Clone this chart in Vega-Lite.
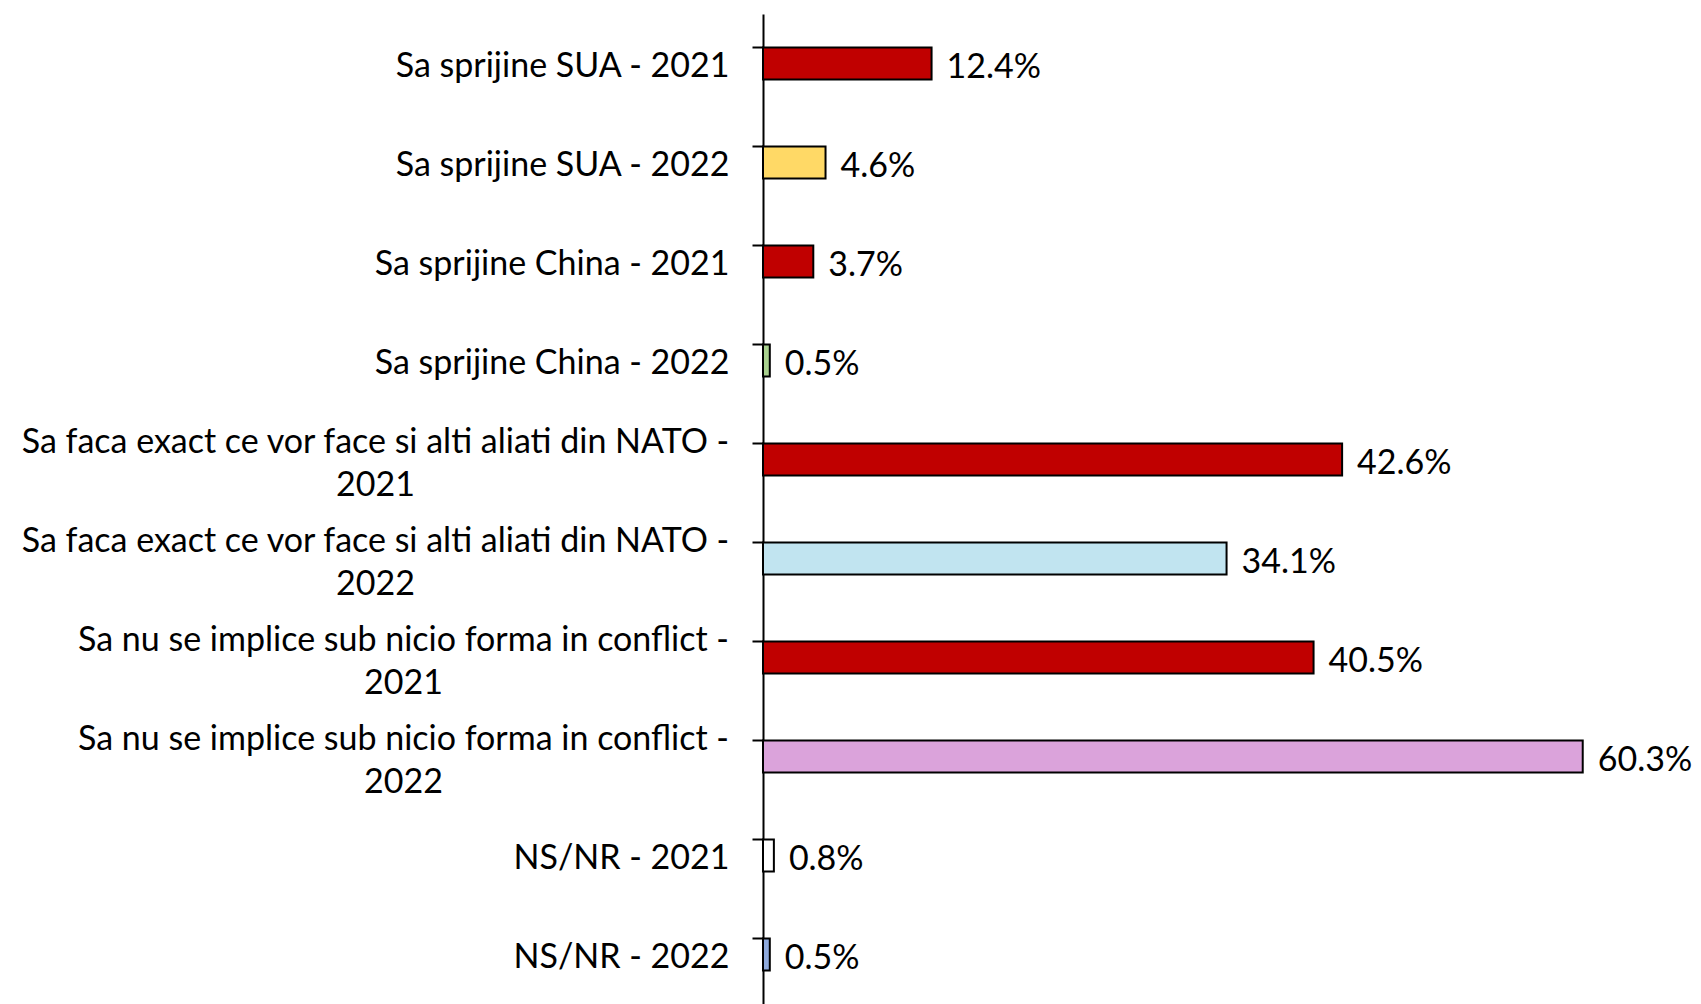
{
  "$schema": "https://vega.github.io/schema/vega-lite/v6.json",
  "autosize": "none",
  "width": 938,
  "height": 990,
  "padding": {"left": 763, "top": 14, "right": 0, "bottom": 0},
  "background": "white",
  "config": {"view": {"stroke": null}, "font": "Lato"},
  "data": {"values": [
    {"cat": "Sa sprijine SUA - 2021", "v": 12.4},
    {"cat": "Sa sprijine SUA - 2022", "v": 4.6},
    {"cat": "Sa sprijine China - 2021", "v": 3.7},
    {"cat": "Sa sprijine China - 2022", "v": 0.5},
    {"cat": "Sa faca exact ce vor face si alti aliati din NATO - 2021", "v": 42.6},
    {"cat": "Sa faca exact ce vor face si alti aliati din NATO - 2022", "v": 34.1},
    {"cat": "Sa nu se implice sub nicio forma in conflict - 2021", "v": 40.5},
    {"cat": "Sa nu se implice sub nicio forma in conflict - 2022", "v": 60.3},
    {"cat": "NS/NR - 2021", "v": 0.8},
    {"cat": "NS/NR - 2022", "v": 0.5}
  ]},
  "encoding": {
    "y": {
      "field": "cat", "type": "nominal", "sort": null,
      "scale": {"paddingInner": 0.677, "paddingOuter": 0.3385},
      "axis": {
        "title": null,
        "domainColor": "black", "domainWidth": 2,
        "tickColor": "black", "tickWidth": 2, "tickSize": 11, "bandPosition": 0,
        "labelFont": "Lato", "labelFontSize": 34, "labelColor": "black",
        "labelLineHeight": 43, "labelLimit": 0,
        "labelAlign": {"condition": {"test": "length(datum.value) > 30", "value": "center"}, "value": "right"},
        "labelPadding": {"condition": [
          {"test": "indexof(datum.value, 'NATO') >= 0", "value": 377},
          {"test": "indexof(datum.value, 'conflict') >= 0", "value": 349}
        ], "value": 23},
        "labelOffset": {"condition": {"test": "length(datum.value) > 30", "value": -17}, "value": 3},
        "labelExpr": "length(datum.value) > 30 ? [slice(datum.value, 0, lastindexof(datum.value, ' - ') + 2), slice(datum.value, lastindexof(datum.value, ' - ') + 3)] : datum.value"
      }
    },
    "x": {
      "field": "v", "type": "quantitative",
      "scale": {"domain": [0, 69], "nice": false, "zero": true},
      "axis": null
    }
  },
  "layer": [
    {
      "mark": {"type": "bar", "stroke": "black", "strokeWidth": 2},
      "encoding": {
        "color": {
          "field": "cat", "type": "nominal", "legend": null,
          "scale": {
            "domain": [
              "Sa sprijine SUA - 2021", "Sa sprijine SUA - 2022",
              "Sa sprijine China - 2021", "Sa sprijine China - 2022",
              "Sa faca exact ce vor face si alti aliati din NATO - 2021",
              "Sa faca exact ce vor face si alti aliati din NATO - 2022",
              "Sa nu se implice sub nicio forma in conflict - 2021",
              "Sa nu se implice sub nicio forma in conflict - 2022",
              "NS/NR - 2021", "NS/NR - 2022"
            ],
            "range": ["#C00000", "#FFD966", "#C00000", "#A9D18E", "#C00000", "#C1E4F0", "#C00000", "#DBA3DB", "#FFFFFF", "#8FAADC"]
          }
        }
      }
    },
    {
      "mark": {"type": "text", "align": "left", "baseline": "middle", "dx": 15, "dy": 4, "font": "Lato", "fontSize": 34, "color": "black",
        "text": {"expr": "format(datum.v, '.1f') + '%'"}},
      "encoding": {}
    }
  ]
}
